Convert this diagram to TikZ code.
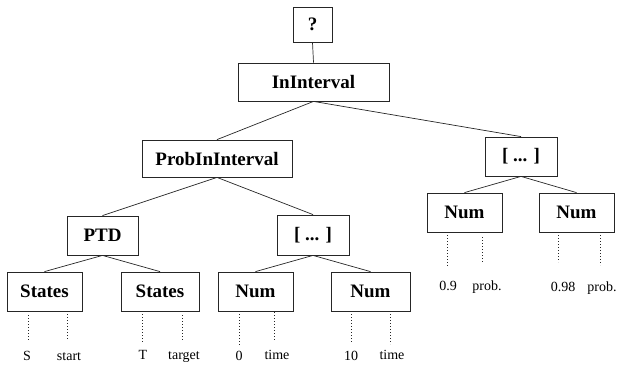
\documentclass[tikz,border=0pt]{standalone}
\usepackage{fontspec}
\setmainfont{Liberation Serif}
\tikzset{
  box/.style={draw=black!85, line width=0.8pt, inner sep=0pt, font=\fontsize{19}{19}\selectfont\bfseries},
  edge/.style={draw=black!85, line width=0.7pt},
  dotline/.style={draw=black!85, line width=0.8pt, dash pattern=on 1pt off 2pt},
  lab/.style={inner sep=0pt, anchor=base, font=\fontsize{14}{14}\selectfont}
}
\begin{document}
\begin{tikzpicture}[x=1pt,y=-1pt]
\useasboundingbox (0,0) rectangle (618,364);
% boxes
\node[box, minimum width=39pt, minimum height=35pt] (q) at (312.5,24.5) {?};
\node[box, minimum width=151pt, minimum height=38pt] (ii) at (313.5,82) {InInterval};
\node[box, minimum width=150pt, minimum height=37pt] (pii) at (217,158.5) {ProbInInterval};
\node[box, minimum width=72pt, minimum height=39pt] (rl) at (521,156.5) {[ ... ]};
\node[box, minimum width=71pt, minimum height=39pt] (ptd) at (102.5,235.5) {PTD};
\node[box, minimum width=72pt, minimum height=40pt] (ml) at (313,235) {[ ... ]};
\node[box, minimum width=75pt, minimum height=39pt] (s1) at (44.5,291.5) {States};
\node[box, minimum width=78pt, minimum height=39pt] (s2) at (160,291.5) {States};
\node[box, minimum width=75pt, minimum height=39pt] (n1) at (255.5,291.5) {Num};
\node[box, minimum width=79pt, minimum height=39pt] (n2) at (370.5,291.5) {Num};
\node[box, minimum width=75pt, minimum height=39pt] (r1) at (464.5,212.5) {Num};
\node[box, minimum width=75pt, minimum height=39pt] (r2) at (576.5,212.5) {Num};
% edges
\draw[edge] (q.south) -- (ii.north);
\draw[edge] (ii.south) -- (pii.north);
\draw[edge] (ii.south) -- (rl.north);
\draw[edge] (pii.south) -- (ptd.north);
\draw[edge] (pii.south) -- (ml.north);
\draw[edge] (ptd.south) -- (s1.north);
\draw[edge] (ptd.south) -- (s2.north);
\draw[edge] (ml.south) -- (n1.north);
\draw[edge] (ml.south) -- (n2.north);
\draw[edge] (rl.south) -- (r1.north);
\draw[edge] (rl.south) -- (r2.north);
% labels
\node[lab] (lS) at (27,360) {S};
\node[lab] (lstart) at (69,360) {start};
\node[lab] (lT) at (143,359) {T};
\node[lab] (ltarget) at (184,359) {target};
\node[lab] (l0) at (239,360.5) {0};
\node[lab] (ltime1) at (277,359) {time};
\node[lab] (l10) at (351,360.5) {10};
\node[lab] (ltime2) at (392,359) {time};
\node[lab] (l09) at (448,290) {0.9};
\node[lab] (lprob1) at (487,290) {prob.};
\node[lab] (l098) at (563,291) {0.98};
\node[lab] (lprob2) at (602,291) {prob.};
% dotted lines
\coordinate (d1a) at (28,315);  \coordinate (d1b) at (28,342);
\coordinate (d2a) at (67,314);  \coordinate (d2b) at (67,340);
\coordinate (d3a) at (142,314); \coordinate (d3b) at (142,342);
\coordinate (d4a) at (182,315); \coordinate (d4b) at (182,342);
\coordinate (d5a) at (239,314); \coordinate (d5b) at (239,345);
\coordinate (d6a) at (274,312); \coordinate (d6b) at (274,340);
\coordinate (d7a) at (351,314); \coordinate (d7b) at (351,342);
\coordinate (d8a) at (390,311); \coordinate (d8b) at (390,344);
\coordinate (d9a) at (447,235); \coordinate (d9b) at (447,267);
\coordinate (d10a) at (482,237); \coordinate (d10b) at (482,263);
\coordinate (d11a) at (558,235); \coordinate (d11b) at (558,262);
\coordinate (d12a) at (600,232); \coordinate (d12b) at (600,265);
\foreach \i in {1,...,12} {\draw[dotline] (d\i a) -- (d\i b);}
\end{tikzpicture}
\end{document}
